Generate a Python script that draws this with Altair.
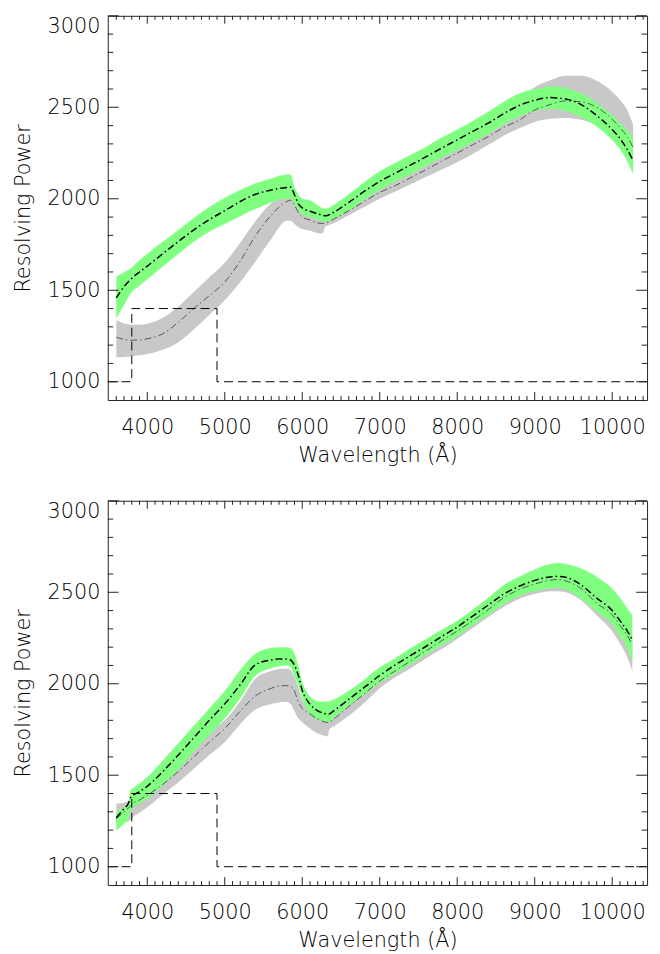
import altair as alt
import pandas as pd

# ---------------- data ----------------
WL_TOP = [3600, 3700, 3800, 3900, 4000, 4200, 4400, 4600, 4800, 5000, 5200, 5400, 5600,
          5800, 5850, 5900, 5950, 6000, 6100, 6200, 6260, 6300, 6400, 6600, 6800, 7000,
          7200, 7400, 7600, 7800, 8000, 8200, 8400, 8600, 8800, 9000, 9200, 9400, 9600,
          9800, 10000, 10100, 10200, 10270]
TOP_GREEN_MID = [1458, 1520, 1565, 1600, 1632, 1700, 1766, 1830, 1886, 1935, 1985, 2025, 2048,
                 2062, 2064, 2022, 1972, 1950, 1932, 1918, 1910, 1907, 1925, 1980, 2040, 2095,
                 2140, 2185, 2230, 2277, 2322, 2368, 2413, 2465, 2510, 2538, 2553, 2545, 2515,
                 2455, 2378, 2330, 2265, 2208]
TOP_GREEN_HI = [1575, 1598, 1625, 1665, 1700, 1765, 1830, 1895, 1955, 2005, 2048, 2085, 2110,
                2132, 2132, 2065, 2025, 2000, 1992, 1965, 1948, 1945, 1965, 2025, 2090, 2150,
                2195, 2240, 2285, 2335, 2378, 2425, 2475, 2530, 2575, 2598, 2613, 2605, 2575,
                2525, 2455, 2415, 2370, 2330]
TOP_GREEN_LO = [1345, 1420, 1490, 1525, 1560, 1630, 1698, 1765, 1820, 1862, 1905, 1945, 1980,
                2000, 2000, 1975, 1940, 1915, 1900, 1885, 1876, 1875, 1890, 1935, 1995, 2050,
                2095, 2135, 2180, 2225, 2265, 2310, 2355, 2405, 2450, 2478, 2492, 2480, 2445,
                2395, 2320, 2270, 2200, 2135]
TOP_GRAY_MID = [1243, 1232, 1227, 1228, 1235, 1262, 1325, 1400, 1470, 1545, 1660, 1800, 1910,
                1985, 1993, 1965, 1925, 1900, 1884, 1868, 1865, 1868, 1888, 1935, 1985, 2035,
                2072, 2115, 2160, 2205, 2250, 2295, 2340, 2390, 2430, 2485, 2515, 2535, 2530,
                2500, 2435, 2390, 2335, 2280]
TOP_GRAY_HI = [1336, 1318, 1312, 1312, 1317, 1350, 1410, 1490, 1570, 1650, 1760, 1880, 1975,
               2015, 2015, 1990, 1945, 1925, 1910, 1895, 1890, 1892, 1910, 1960, 2025, 2085,
               2125, 2170, 2215, 2260, 2300, 2350, 2405, 2470, 2550, 2610, 2648, 2672, 2672,
               2645, 2585, 2540, 2480, 2405]
TOP_GRAY_LO = [1134, 1135, 1140, 1145, 1152, 1175, 1215, 1285, 1365, 1445, 1545, 1660, 1780,
               1880, 1880, 1862, 1845, 1835, 1825, 1812, 1810, 1848, 1865, 1910, 1955, 2000,
               2040, 2080, 2120, 2160, 2200, 2245, 2295, 2345, 2385, 2420, 2437, 2442, 2432,
               2400, 2330, 2280, 2220, 2160]

WL_BOT = [3600, 3700, 3760, 3780, 3800, 3900, 4000, 4200, 4400, 4600, 4800, 5000, 5200, 5400,
          5600, 5700, 5800, 5850, 5900, 5950, 6000, 6050, 6100, 6150, 6200, 6300, 6330, 6350,
          6400, 6600, 6800, 7000, 7200, 7400, 7600, 7800, 8000, 8200, 8400, 8600, 8800, 9000,
          9200, 9300, 9400, 9600, 9800, 10000, 10100, 10200, 10260]
BOT_GREEN_MID = [1268, 1318, 1350, 1375, 1385, 1410, 1440, 1520, 1610, 1705, 1800, 1890, 1995,
                 2105, 2130, 2136, 2135, 2130, 2100, 2045, 1964, 1918, 1888, 1866, 1852, 1836,
                 1834, 1835, 1850, 1915, 1980, 2045, 2103, 2155, 2205, 2258, 2310, 2370, 2430,
                 2490, 2533, 2565, 2584, 2587, 2582, 2540, 2468, 2400, 2345, 2285, 2240]
BOT_GREEN_HI = [1300, 1325, 1345, 1418, 1425, 1455, 1490, 1580, 1675, 1770, 1865, 1960, 2075,
                2165, 2195, 2200, 2200, 2196, 2165, 2095, 2010, 1962, 1930, 1912, 1905, 1903,
                1903, 1905, 1912, 1962, 2022, 2090, 2140, 2195, 2245, 2295, 2345, 2405, 2470,
                2540, 2585, 2625, 2655, 2660, 2655, 2630, 2585, 2520, 2470, 2410, 2375]
BOT_GREEN_LO = [1200, 1235, 1265, 1300, 1315, 1345, 1372, 1445, 1530, 1630, 1720, 1810, 1920,
                2045, 2085, 2095, 2100, 2090, 2040, 1990, 1920, 1870, 1835, 1815, 1805, 1790,
                1788, 1790, 1810, 1880, 1940, 2005, 2055, 2105, 2160, 2210, 2260, 2320, 2375,
                2435, 2480, 2505, 2522, 2525, 2515, 2465, 2395, 2325, 2260, 2190, 2125]
BOT_GRAY_MID = [1262, 1300, 1322, 1330, 1340, 1365, 1390, 1450, 1520, 1600, 1680, 1755, 1850,
                1935, 1975, 1988, 1990, 1985, 1960, 1900, 1865, 1848, 1835, 1820, 1808, 1790,
                1788, 1790, 1805, 1875, 1945, 2015, 2070, 2125, 2180, 2235, 2288, 2345, 2405,
                2470, 2515, 2545, 2566, 2570, 2562, 2520, 2440, 2377, 2320, 2260, 2215]
BOT_GRAY_HI = [1345, 1350, 1360, 1370, 1380, 1410, 1440, 1505, 1580, 1660, 1740, 1800, 1905,
               2030, 2070, 2080, 2082, 2075, 2035, 1980, 1915, 1880, 1860, 1845, 1835, 1825,
               1822, 1825, 1840, 1905, 1975, 2045, 2100, 2155, 2210, 2265, 2320, 2380, 2440,
               2505, 2550, 2580, 2600, 2605, 2600, 2565, 2490, 2420, 2370, 2310, 2260]
BOT_GRAY_LO = [1230, 1240, 1250, 1255, 1265, 1295, 1325, 1395, 1460, 1535, 1610, 1680, 1780,
               1860, 1890, 1898, 1900, 1890, 1850, 1810, 1790, 1772, 1755, 1740, 1728, 1714,
               1712, 1752, 1765, 1825, 1895, 1975, 2035, 2085, 2140, 2190, 2245, 2305, 2365,
               2420, 2465, 2490, 2505, 2506, 2500, 2455, 2375, 2287, 2220, 2140, 2070]

# requirement (dashed step line)
REQ_WL = [3490, 3800, 3800, 4900, 4900, 10450]
REQ_R = [1000, 1000, 1400, 1400, 1000, 1000]

# axis ticks
X_MAJOR = [4000, 5000, 6000, 7000, 8000, 9000, 10000]
X_MINOR = [3600, 3700, 3800, 3900, 4100, 4200, 4300, 4400, 4500, 4600, 4700, 4800, 4900,
           5100, 5200, 5300, 5400, 5500, 5600, 5700, 5800, 5900, 6100, 6200, 6300, 6400,
           6500, 6600, 6700, 6800, 6900, 7100, 7200, 7300, 7400, 7500, 7600, 7700, 7800,
           7900, 8100, 8200, 8300, 8400, 8500, 8600, 8700, 8800, 8900, 9100, 9200, 9300,
           9400, 9500, 9600, 9700, 9800, 9900, 10100, 10200, 10300, 10400]
Y_MAJOR = [1000, 1500, 2000, 2500, 3000]
Y_MINOR = [1100, 1200, 1300, 1400, 1600, 1700, 1800, 1900, 2100, 2200, 2300, 2400,
           2600, 2700, 2800, 2900]

# ---------------- chart ----------------
W, H = 546, 389
FONT = "DejaVu Sans"
XS = alt.Scale(domain=[3490, 10450], nice=False, zero=False)
YS = alt.Scale(domain=[900, 3000], nice=False, zero=False)
XAXIS = alt.Axis(values=X_MAJOR, format="d")
YAXIS = alt.Axis(values=Y_MAJOR, format="d", labelFlush=True)
DASHDOT = [7, 3, 1.5, 3]


def xenc(field):
    return alt.X(field, type="quantitative", scale=XS, axis=XAXIS, title="Wavelength (Å)")


def yenc(field):
    return alt.Y(field, type="quantitative", scale=YS, axis=YAXIS, title="Resolving Power")


def tick_layers():
    xmaj = pd.DataFrame({"v": X_MAJOR})
    xmin = pd.DataFrame({"v": X_MINOR})
    ymaj = pd.DataFrame({"v": Y_MAJOR})
    ymin = pd.DataFrame({"v": Y_MINOR})
    out = []
    for d, ln in ((xmaj, 8), (xmin, 4)):
        c = alt.Chart(d).mark_rule(color="#222222", strokeWidth=1)
        out.append(c.encode(x=xenc("v"), y=alt.value(H), y2=alt.value(H - ln)))
        out.append(c.encode(x=xenc("v"), y=alt.value(0), y2=alt.value(ln)))
    for d, ln in ((ymaj, 11), (ymin, 5.5)):
        c = alt.Chart(d).mark_rule(color="#222222", strokeWidth=1)
        out.append(c.encode(y=yenc("v"), x=alt.value(0), x2=alt.value(ln)))
        out.append(c.encode(y=yenc("v"), x=alt.value(W), x2=alt.value(W - ln)))
    return out


def panel(wl, glo, ghi, gmid, klo, khi, kmid):
    df = pd.DataFrame({"wl": wl, "glo": glo, "ghi": ghi, "gmid": gmid,
                       "klo": klo, "khi": khi, "kmid": kmid})
    base = alt.Chart(df)
    gray_band = base.mark_area(color="#c8c8c8", opacity=1, interpolate="monotone").encode(
        x=xenc("wl"), y=yenc("klo"), y2="khi")
    green_band = base.mark_area(color="#80ff80", opacity=1, interpolate="monotone").encode(
        x=xenc("wl"), y=yenc("glo"), y2="ghi")
    gray_line = base.mark_line(color="#555555", strokeWidth=1, strokeDash=DASHDOT,
                               interpolate="monotone").encode(x=xenc("wl"), y=yenc("kmid"))
    black_line = base.mark_line(color="black", strokeWidth=1.5, strokeDash=DASHDOT,
                                interpolate="monotone").encode(x=xenc("wl"), y=yenc("gmid"))
    req_df = pd.DataFrame({"wl": REQ_WL, "r": REQ_R, "i": list(range(len(REQ_WL)))})
    req = alt.Chart(req_df).mark_line(color="black", strokeWidth=1, strokeDash=[9, 5]).encode(
        x=xenc("wl"), y=yenc("r"), order="i:Q")
    return alt.layer(gray_band, green_band, gray_line, black_line, req,
                     *tick_layers()).properties(width=W, height=H)


top = panel(WL_TOP, TOP_GREEN_LO, TOP_GREEN_HI, TOP_GREEN_MID,
            TOP_GRAY_LO, TOP_GRAY_HI, TOP_GRAY_MID)
bottom = panel(WL_BOT, BOT_GREEN_LO, BOT_GREEN_HI, BOT_GREEN_MID,
               BOT_GRAY_LO, BOT_GRAY_HI, BOT_GRAY_MID)

chart = (
    alt.vconcat(top, bottom, spacing=34)
    .configure_view(stroke="#222222", strokeWidth=1)
    .configure_axis(ticks=False, domain=False, grid=False,
                    labelFont=FONT, labelFontSize=21, labelColor="black",
                    labelFontWeight=200,
                    titleFont=FONT, titleFontSize=21, titleFontWeight=200,
                    titleColor="black")
    .configure_axisX(labelPadding=17, titlePadding=7)
    .configure_axisY(labelPadding=8, titlePadding=14)
    .properties(padding={"left": 4, "top": 1, "right": 2, "bottom": 2}, background="white")
)

chart.save("out.html", embed_options={"renderer": "svg", "actions": False})
